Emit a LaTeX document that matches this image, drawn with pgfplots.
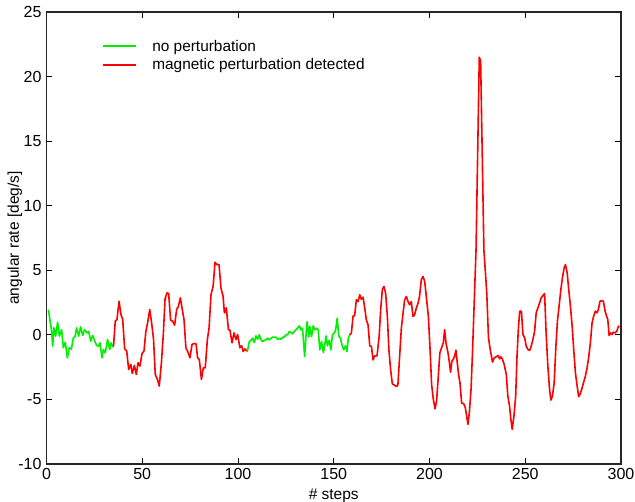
\documentclass[border=0pt]{standalone}
\usepackage{fontspec}
\setmainfont{Liberation Sans}
\usepackage{pgfplots}
\pgfplotsset{compat=1.18}

\definecolor{pgreen}{RGB}{0,240,0}
\definecolor{pred}{RGB}{255,0,0}

\begin{document}
\begin{tikzpicture}
\path[use as bounding box] (-46.5pt,-38pt) rectangle (588.5pt,464pt);
\begin{axis}[
    scale only axis,
    width=574.5pt, height=452pt,
    xmin=0, xmax=300, ymin=-10, ymax=25,
    xtick={0,50,...,300},
    ytick={-10,-5,...,25},
    tick align=inside,
    major tick length=6pt,
    tick style={black, line width=0.8pt},
    axis line style={line width=1.2pt, black!85},
    /pgf/number format/assume math mode=true,
    tick label style={font=\fontsize{16}{18}\selectfont},
    label style={font=\fontsize{15.5}{18}\selectfont},
    xticklabel style={yshift=-1pt},
    yticklabel style={xshift=-1.5pt},
    xlabel={\# steps},
    ylabel={angular rate [deg/s]},
    xlabel style={at={(axis description cs:0.5,0)}, anchor=center, yshift=-32pt},
    ylabel style={at={(axis description cs:-0.055,0.5)}, anchor=center},
    legend style={draw=none, fill=none, at={(axis description cs:0.092,0.945)}, anchor=north west,
        font=\fontsize{15.4}{18}\selectfont, row sep=4pt, column sep=0pt,
        nodes={inner ysep=1pt, inner xsep=2pt}},
    legend cell align=left,
    legend image code/.code={\draw[#1] (0pt,0pt) -- (33pt,0pt);},
    every axis plot/.append style={line width=1.6pt, line join=round},
]
\addlegendimage{pgreen, line width=1.8pt}
\addlegendentry{\hspace{13pt}no perturbation}
\addlegendimage{pred, line width=1.6pt}
\addlegendentry{\hspace{13pt}magnetic perturbation detected}
\addplot[pgreen, forget plot] coordinates {
(1,1.96) (2.7,0.26) (3.2,-0.88) (3.9,0.54) (4.8,-0.1) (5.8,0.98) (6.7,-0.1) (7.9,0.4) (8.8,-1.0) (9.8,-0.57)
(10.9,-1.78) (11.9,-1.0) (13,-1.1) (14,-0.23) (14.9,-0.15) (15.7,0.54) (16.8,-0.1) (17.8,0.62) (18.9,-0.05) (19.9,0.41)
(21,0.15) (22,0.28) (23.1,-0.49) (24.1,-0.05) (25.2,-0.49) (26.2,-0.82) (27.1,-0.88) (27.9,-0.62) (29,-1.78) (29.7,-1.13)
(30.7,-1.39) (31.9,-0.36) (33,-1.13) (33.7,-0.62) (34.7,-0.93) (35,-0.88)
};
\addplot[pred, forget plot] coordinates {
(35,-0.88) (35.9,1.06) (36.8,1.19) (37.9,2.6) (38.9,1.57) (39.8,1.19) (40.8,-1.08) (41.9,-1.26) (42.9,-2.68) (44,-2.29)
(44.8,-2.99) (45.9,-2.37) (46.9,-3.07) (47.8,-2.16) (48.8,-2.42) (49.9,-1.44) (50.9,-1.26) (51.9,0.28) (52.8,0.93) (53.9,1.96)
(54.9,0.93) (55.9,-0.36) (56.8,-3.07) (57.9,-3.45) (58.9,-3.97) (60,-2.16) (61,0.03) (61.9,2.78) (62.9,3.25) (63.8,3.2)
(64.8,1.13) (65.9,1.06) (66.9,0.75) (68,2.0) (68.8,2.16) (69.9,2.86) (70.9,1.96) (71.8,1.19) (72.8,-1.01) (73.9,-1.34)
(74.9,-1.78) (76,-0.75) (77,-0.67) (78.1,-0.70) (78.9,-1.78) (79.8,-1.91) (80.9,-3.45) (81.9,-2.55) (82.9,-2.55) (84,-0.36)
(84.9,0.54) (85.9,3.12) (87,3.76) (88,5.62) (89,5.44) (90.1,5.44) (91.1,3.63) (92.2,2.99) (92.9,1.70) (93.9,2.09)
(95,0.41) (95.8,0.36) (96.9,-0.62) (97.9,0.15) (99,-0.36) (99.8,0.03) (101,-1.0) (101.9,-0.85) (102.7,-1.29) (103.6,-1.09)
(104.9,-1.29)
};
\addplot[pgreen, forget plot] coordinates {
(104.9,-1.29) (105.9,-0.52) (106.8,-0.44) (107.6,-0.26) (108.5,-0.59) (109.4,-0.08) (110.3,-0.34) (111.1,0) (112,-0.39) (112.9,-0.52)
(113.7,-0.44) (114.6,-0.39) (115.5,-0.26) (116.4,-0.39) (117.2,-0.26) (118.1,-0.18) (119,-0.18) (119.8,-0.18) (120.7,-0.34) (121.6,-0.26)
(122.4,-0.34) (123.3,-0.18) (124.2,-0.18) (125,0) (125.9,0) (126.8,0.26) (127.7,0.18) (128.5,0.08) (129.4,0.26) (130.2,0.39)
(131.1,0.52) (132,0.70) (132.9,0.39) (133.7,0.52) (134.8,-1.68) (135.6,0.13) (136.1,1.03) (137,-0.18) (137.5,0.65) (138.4,-0.13)
(139.3,0.70) (140.1,0.39) (141,0.52) (141.9,0.39) (142.7,-1.16) (143.6,-0.52) (144.6,-1.37) (145.3,-0.78) (146,-0.08) (146.7,-0.85)
(147.6,-0.44) (148.5,-1.16) (149.3,0) (150.2,0.13) (151,0.39) (151.8,1.29) (152.6,-0.08) (153.5,-0.26) (154.3,-0.78) (155.2,-1.16)
(156.1,-0.85) (156.9,-1.29) (157.6,-0.26) (158.3,0)
};
\addplot[pred, forget plot] coordinates {
(158.3,0) (159.2,0.13) (160.1,1.47) (160.9,1.47) (161.8,2.71) (162.7,2.58) (163.6,3.10) (164.4,2.76) (165.3,2.92) (166.2,2.07)
(167,1.16) (167.9,0.78) (168.8,-0.85) (169.7,-0.90) (170.5,-1.94) (171.4,-1.63) (172.6,-1.63) (173.7,-0.13) (174.5,1.94) (175.4,3.54)
(176.2,3.75) (177.1,3.23) (178,1.42) (178.8,-1.16) (179.7,-2.71) (180.6,-3.80) (181.5,-3.88) (182.7,-4.0) (183.5,-3.88) (184.4,-1.68)
(185.3,0.52) (186.1,1.55) (187,2.71) (187.9,2.97) (188.8,2.58) (189.6,2.33) (190.5,2.58) (191.4,1.42) (192.2,1.55) (193.1,2.07)
(194,2.45) (194.8,2.97) (195.7,4.26) (196.6,4.52) (197.5,4.13) (198.3,3.0) (199.4,1.44) (200.3,-1.13) (201.1,-3.84) (202,-5)
(202.9,-5.72) (203.7,-5.13) (204.6,-3.20) (205.4,-1.39) (206.3,-1.0) (207.2,-0.62) (207.9,0.41) (208.6,-0.62) (209.6,-1.34) (210.3,-2.04)
(211,-2.89) (211.7,-2.04) (212.4,-1.91) (213.1,-1.65) (213.8,-1.19) (214.5,-2.16) (215.2,-3.07) (215.9,-3.71) (216.8,-5.31) (217.8,-5.31)
(218.7,-5.64) (219.4,-6.29) (220.1,-6.93) (220.8,-6.03) (221.7,-4.23) (222.5,-1.13) (223.4,2.73) (224.3,6.6) (226,21.5) (226.7,21.2)
(228.4,6.6) (229.9,3.25) (230.8,-0.23) (231.7,-1.13) (232.9,-2.11) (233.8,-1.78) (234.8,-1.70) (235.9,-1.60) (236.6,-1.86) (237.3,-1.70)
(238,-1.86) (239,-2.29) (240.1,-3.07) (240.9,-4.74) (241.8,-5.52) (242.5,-6.55) (243.2,-7.32) (244.1,-6.29) (245,-4.74) (245.7,-1.65)
(246.4,0.46) (247.1,1.83) (248,1.83) (248.8,0.03) (249.7,-0.23) (250.5,-0.88) (251.4,-1.13) (252.3,-1.21) (253.1,-0.88) (254,-0.36)
(254.9,0.28) (255.7,1.70) (256.6,2.09) (257.5,2.47) (258.3,2.86) (259.2,3.04) (260.1,3.20) (260.9,0.15) (261.8,-2.42) (262.7,-4.23)
(263.4,-5.05) (264.2,-4.74) (265.1,-3.71) (266,-0.88) (266.8,1.06) (267.7,2.27) (268.6,3.51) (269.4,4.41) (270.3,5.18) (271,5.44)
(271.9,4.79) (272.7,3.51) (273.6,2.22) (274.5,0.67) (275.3,-1.13) (276.2,-2.94) (277.1,-3.97) (277.9,-4.79) (278.8,-4.54) (279.7,-4.10)
(280.5,-3.66) (281.4,-3.20) (282.3,-2.55) (283.1,-1.78) (284,-0.62) (284.9,0.93) (285.7,1.44) (286.6,1.83) (287.5,1.70) (288.2,1.96)
(289,2.60) (289.9,2.65) (290.8,2.60) (291.7,1.83) (292.5,1.44) (293.1,1.19) (293.8,-0.05) (294.5,0.15) (295.3,0.03) (296,0.21)
(296.9,0.15) (297.8,0.28) (298.7,0.67) (299.2,0.62)
};
\end{axis}
\end{tikzpicture}
\end{document}
